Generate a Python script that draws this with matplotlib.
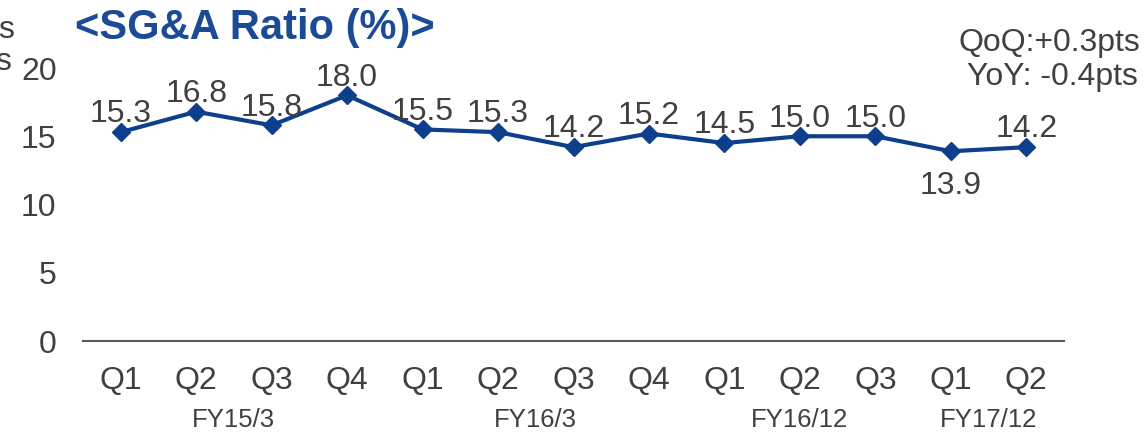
import numpy as np
import matplotlib.pyplot as plt

quarters = ["Q1", "Q2", "Q3", "Q4", "Q1", "Q2", "Q3", "Q4", "Q1", "Q2", "Q3", "Q1", "Q2"]
ratio = [15.3, 16.8, 15.8, 18.0, 15.5, 15.3, 14.2, 15.2, 14.5, 15.0, 15.0, 13.9, 14.2]
fiscal_years = ["FY15/3", "FY16/3", "FY16/12", "FY17/12"]
fy_spans = [(0, 3), (4, 7), (8, 10), (11, 12)]
y_ticks = [0, 5, 10, 15, 20]

NAVY = "#0E3F8C"
TEXT = "#404040"

plt.rcParams["font.family"] = ["Liberation Sans", "DejaVu Sans"]

W, H = 1145, 436
fig = plt.figure(figsize=(W / 100, H / 100), dpi=100)
ax = fig.add_axes([83 / W, (H - 341) / H, (1064 - 83) / W, (341 - 68) / H])

x = np.arange(len(ratio))
ax.plot(x, ratio, color=NAVY, linewidth=3, marker="D", markersize=9,
        clip_on=False, zorder=3)

# labels sit above the points, except the dip at 13.9
for i, v in enumerate(ratio):
    below = v == 13.9
    ax.annotate(f"{v:.1f}", (i, v), xytext=(0, -31 if below else 7),
                textcoords="offset points", ha="center", va="baseline",
                fontsize=23, color=TEXT)

ax.set_xlim(-0.5, len(ratio) - 0.5)
ax.set_ylim(0, 20)
ax.set_yticks(y_ticks)
ax.set_xticks(x)
ax.set_xticklabels(quarters)
ax.tick_params(axis="both", length=0, labelsize=23, colors=TEXT)
ax.tick_params(axis="x", pad=18)
ax.tick_params(axis="y", pad=19)

for side in ["top", "right", "left"]:
    ax.spines[side].set_visible(False)
ax.spines["bottom"].set_color("#595959")
ax.spines["bottom"].set_linewidth(1.5)

for name, (a, b) in zip(fiscal_years, fy_spans):
    ax.text((a + b) / 2, -0.29, name, transform=ax.get_xaxis_transform(),
            ha="center", va="center", fontsize=18.5, color=TEXT)

fig.text(75 / W, 1 - 28 / H, "<SG&A Ratio (%)>", fontsize=30, fontweight="bold",
         color="#1B4A96", ha="left", va="center")
fig.text(1140 / W, 1 - 43 / H, "QoQ:+0.3pts", fontsize=23, color=TEXT,
         ha="right", va="center")
fig.text(1138 / W, 1 - 77 / H, "YoY: -0.4pts", fontsize=23, color=TEXT,
         ha="right", va="center")
fig.text(-2 / W, 1 - 30 / H, "s", fontsize=23, color=TEXT, ha="left", va="center")
fig.text(-5 / W, 1 - 62 / H, "s", fontsize=23, color=TEXT, ha="left", va="center")

fig.savefig("out.png", dpi=100)
